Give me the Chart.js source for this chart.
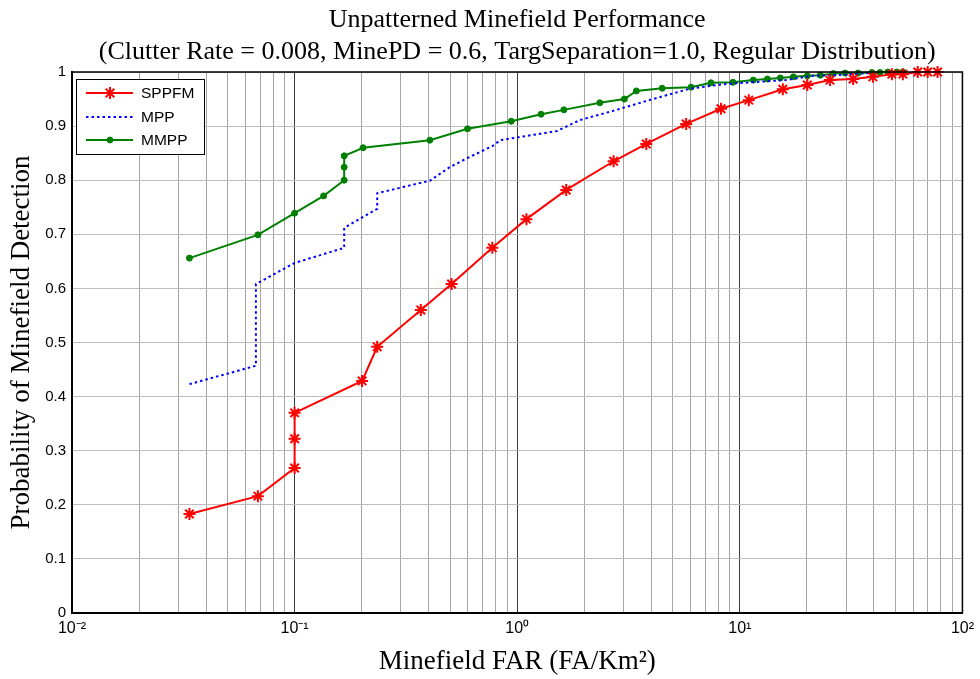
<!DOCTYPE html>
<html><head><meta charset="utf-8">
<script src="https://cdn.jsdelivr.net/npm/chart.js@4.4.0/dist/chart.umd.min.js"></script>
<style>html,body{margin:0;padding:0;background:#fff;}#wrap{width:980px;height:679px;}</style>
</head><body><div id="wrap"><canvas id="c" width="980" height="679"></canvas></div>
<script>
const TITLE_LINES = ['Unpatterned Minefield Performance', '(Clutter Rate = 0.008, MinePD = 0.6, TargSeparation=1.0, Regular Distribution)'];
const X_LABEL = 'Minefield FAR (FA/Km\u00B2)';
const Y_LABEL = 'Probability of Minefield Detection';
const SERIES_NAMES = ['SPPFM', 'MPP', 'MMPP'];
const X_TICK_VALUES = [0.01, 0.1, 1, 10, 100];
const X_TICK_LABELS = ['10\u207B\u00B2', '10\u207B\u00B9', '10\u2070', '10\u00B9', '10\u00B2'];
const Y_TICK_VALUES = [0, 0.1, 0.2, 0.3, 0.4, 0.5, 0.6, 0.7, 0.8, 0.9, 1];
const Y_TICK_LABELS = ['0', '0.1', '0.2', '0.3', '0.4', '0.5', '0.6', '0.7', '0.8', '0.9', '1'];

const SPPFM_FAR = [0.0337, 0.0684, 0.1, 0.1, 0.1, 0.201, 0.235, 0.369, 0.507, 0.773, 1.10, 1.66, 2.71, 3.80, 5.74, 8.23, 10.97, 15.6, 20.1, 25.4, 32.3, 39.6, 48.2, 54, 63, 69.8, 77.3];
const SPPFM_PD = [0.183, 0.216, 0.268, 0.322, 0.370, 0.429, 0.492, 0.560, 0.608, 0.675, 0.728, 0.782, 0.835, 0.867, 0.904, 0.932, 0.948, 0.968, 0.976, 0.985, 0.987, 0.991, 0.996, 0.996, 1.0, 1.0, 1.0];

const MPP_FAR = [0.0337, 0.067, 0.067, 0.1, 0.167, 0.167, 0.235, 0.235, 0.405, 0.497, 0.598, 0.773, 0.84, 1.51, 1.91, 2.79, 3.92, 5.94, 8.66, 16.0, 21.2, 26.3, 31.7, 38];
const MPP_PD = [0.423, 0.457, 0.608, 0.647, 0.675, 0.712, 0.747, 0.776, 0.799, 0.824, 0.841, 0.863, 0.874, 0.891, 0.911, 0.930, 0.948, 0.969, 0.978, 0.985, 0.993, 0.994, 0.996, 0.998];

const MMPP_FAR = [0.0337, 0.0684, 0.1, 0.135, 0.167, 0.167, 0.167, 0.203, 0.405, 0.598, 0.94, 1.28, 1.62, 2.35, 3.03, 3.43, 4.48, 6.04, 7.42, 9.31, 11.5, 13.3, 15.2, 17.4, 20.1, 23.0, 26.3, 29.7, 34.0, 39.2, 42.6, 46.2, 50.7, 54];
const MMPP_PD = [0.656, 0.699, 0.739, 0.771, 0.800, 0.824, 0.845, 0.860, 0.874, 0.895, 0.909, 0.922, 0.930, 0.943, 0.950, 0.965, 0.970, 0.972, 0.980, 0.981, 0.985, 0.987, 0.989, 0.991, 0.993, 0.994, 0.997, 0.998, 0.998, 0.999, 0.999, 1.0, 1.0, 1.0];

function pts(xs, ys) { return xs.map((x, i) => ({ x: x, y: ys[i] })); }
function isDecade(v) { const l = Math.log10(v); return Math.abs(l - Math.round(l)) < 1e-9; }

const X_GRID_VALUES = [];
for (let e = -2; e < 2; e++) for (let m = 1; m <= 9; m++) X_GRID_VALUES.push(parseFloat((m * Math.pow(10, e)).toPrecision(6)));
X_GRID_VALUES.push(100);

const titlePlugin = {
  id: 'mtitle',
  afterDraw(chart) {
    const ctx = chart.ctx, a = chart.chartArea;
    ctx.save();
    ctx.fillStyle = '#000';
    ctx.font = '26px "Liberation Serif", "Times New Roman", serif';
    ctx.textAlign = 'center';
    ctx.textBaseline = 'middle';
    const cx = (a.left + a.right) / 2;
    ctx.fillText(TITLE_LINES[0], cx, 20);
    ctx.fillText(TITLE_LINES[1], cx, 52);
    // box top/right lines
    ctx.strokeStyle = '#000';
    ctx.lineWidth = 1.5;
    ctx.beginPath();
    ctx.moveTo(a.left, a.top); ctx.lineTo(a.right, a.top); ctx.lineTo(a.right, a.bottom);
    ctx.stroke();
    // legend
    const lx = 76, ly = 79, lw = 128, lh = 75;
    ctx.fillStyle = '#fff';
    ctx.fillRect(lx, ly, lw, lh);
    ctx.strokeStyle = '#000';
    ctx.lineWidth = 1;
    ctx.strokeRect(lx + 0.5, ly + 0.5, lw, lh);
    const rows = [93, 117, 140];
    chart.data.datasets.forEach((ds, i) => {
      const y = rows[i];
      ctx.save();
      ctx.strokeStyle = ds.borderColor;
      ctx.lineWidth = ds.borderWidth;
      ctx.setLineDash(ds.borderDash || []);
      ctx.beginPath(); ctx.moveTo(86, y); ctx.lineTo(133, y); ctx.stroke();
      ctx.setLineDash([]);
      if (ds.pointRadius > 0) {
        ctx.fillStyle = ds.pointBackgroundColor;
        ctx.strokeStyle = ds.pointBorderColor;
        ctx.lineWidth = ds.pointBorderWidth;
        Chart.helpers.drawPoint(ctx, {
          pointStyle: ds.pointStyle, radius: ds.pointRadius, borderWidth: ds.pointBorderWidth, rotation: 0
        }, 110, y);
      }
      ctx.restore();
      ctx.fillStyle = '#000';
      ctx.font = '15.5px "Liberation Sans", Arial, sans-serif';
      ctx.textAlign = 'left';
      ctx.textBaseline = 'middle';
      ctx.fillText(ds.label, 141, y + 1);
    });
    ctx.restore();
  }
};

new Chart(document.getElementById('c'), {
  type: 'line',
  data: {
    datasets: [
      { label: SERIES_NAMES[0], data: pts(SPPFM_FAR, SPPFM_PD), borderColor: '#ff0000', backgroundColor: '#ff0000',
        borderWidth: 2, pointStyle: 'star', pointRadius: 6, pointBorderWidth: 2, pointBorderColor: '#ff0000',
        pointBackgroundColor: '#ff0000', tension: 0, clip: false },
      { label: SERIES_NAMES[1], data: pts(MPP_FAR, MPP_PD), borderColor: '#0000ff', backgroundColor: '#0000ff',
        borderWidth: 2, borderDash: [2.5, 3], pointRadius: 0, pointBorderWidth: 0, tension: 0 },
      { label: SERIES_NAMES[2], data: pts(MMPP_FAR, MMPP_PD), borderColor: '#008000', backgroundColor: '#008000',
        borderWidth: 2, pointStyle: 'circle', pointRadius: 3, pointBorderWidth: 1, pointBorderColor: '#008000',
        pointBackgroundColor: '#008000', tension: 0, clip: false }
    ]
  },
  options: {
    responsive: false,
    animation: false,
    devicePixelRatio: 1,
    layout: { padding: { left: 0, right: 12, top: 72, bottom: 0 } },
    plugins: { legend: { display: false }, tooltip: { enabled: false }, title: { display: false } },
    scales: {
      x: {
        type: 'logarithmic', min: 0.01, max: 100,
        afterBuildTicks: (s) => { s.ticks = X_GRID_VALUES.map(v => ({ value: v })); },
        afterFit: (s) => { s.height = 66; },
        ticks: {
          autoSkip: false, maxRotation: 0, minRotation: 0, padding: 6, color: '#000',
          font: { family: '"Liberation Sans", Arial, sans-serif', size: 16 },
          callback: (v) => { const i = X_TICK_VALUES.findIndex(t => Math.abs(t - v) < 1e-9 * Math.max(1, t)); return i >= 0 ? X_TICK_LABELS[i] : ''; }
        },
        grid: { drawTicks: false, lineWidth: 1, color: (c) => (c.tick && isDecade(c.tick.value)) ? '#3c3c3c' : '#a6a6a6' },
        border: { display: true, color: '#000', width: 2 },
        title: { display: true, text: X_LABEL, color: '#000', font: { family: '"Liberation Serif", "Times New Roman", serif', size: 27 }, padding: { top: 0, bottom: 1 } }
      },
      y: {
        type: 'linear', min: 0, max: 1,
        afterBuildTicks: (s) => { s.ticks = Y_TICK_VALUES.map(v => ({ value: v })); },
        afterFit: (s) => { s.width = 72; },
        ticks: {
          padding: 6, color: '#000',
          font: { family: '"Liberation Sans", Arial, sans-serif', size: 15 },
          callback: (v, i) => Y_TICK_LABELS[i]
        },
        grid: { drawTicks: false, lineWidth: 1, color: '#bdbdbd' },
        border: { display: true, color: '#000', width: 2 },
        title: { display: true, text: Y_LABEL, color: '#000', font: { family: '"Liberation Serif", "Times New Roman", serif', size: 27 }, padding: { top: 6, bottom: 0 } }
      }
    }
  },
  plugins: [titlePlugin]
});
</script>
</body></html>
